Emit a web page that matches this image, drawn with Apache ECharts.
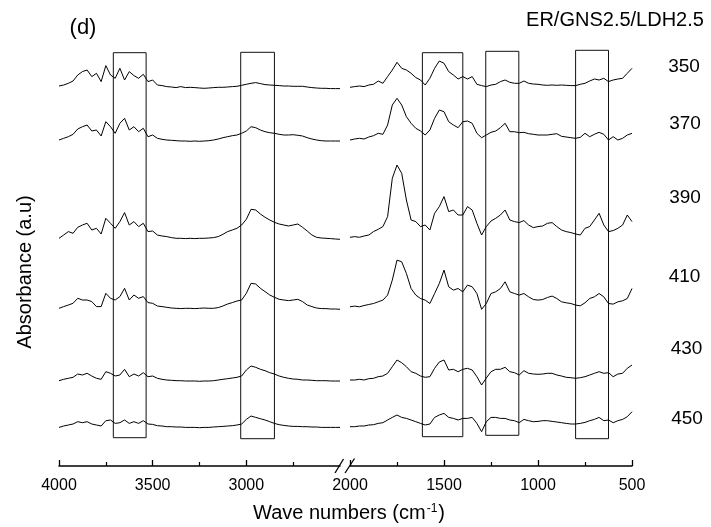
<!DOCTYPE html>
<html>
<head>
<meta charset="utf-8">
<script src="https://cdn.jsdelivr.net/npm/echarts@6/dist/echarts.min.js"></script>
<style>
  html, body { margin: 0; padding: 0; background: #fff; }
  #chart { width: 711px; height: 527px; }
</style>
</head>
<body>
<div id="chart"></div>
<script>
const FONT = "'Liberation Sans', Arial, sans-serif";

// wave numbers (cm-1) on each side of the axis break
const leftWave = [4000,3975,3950,3925,3900,3875,3850,3825,3800,3775,3750,3725,3700,3675,3650,3625,3600,3575,3550,3525,3500,3475,3450,3425,3400,3375,3350,3325,3300,3275,3250,3225,3200,3175,3150,3125,3100,3075,3050,3025,3000,2975,2950,2925,2900,2875,2850,2825,2800,2775,2750,2725,2700,2675,2650,2625,2600,2575,2550,2525,2500];
const rightWave = [2000,1975,1950,1925,1900,1875,1850,1825,1800,1775,1750,1725,1700,1675,1650,1625,1600,1575,1550,1525,1500,1475,1450,1425,1400,1375,1350,1325,1300,1275,1250,1225,1200,1175,1150,1125,1100,1075,1050,1025,1000,975,950,925,900,875,850,825,800,775,750,725,700,675,650,625,600,575,550,525,500];

const temps = ['350', '370', '390', '410', '430', '450'];
// vertical offset of each spectrum (a.u.)
const offsets = [378.7, 325, 227.7, 157.7, 86, 39.3];

// absorbance relative to offset, 4000-2500
const leftSpectra = [
  [1.3,2.3,4,6.3,12.3,15.7,17.3,10.7,14,5.7,21.7,12.3,9,19,7.3,15.7,11.7,9,13,5.7,7.3,2.3,1.7,0.7,0.3,-0.3,0.7,-0.3,0,-0.3,-0.7,-1,-0.7,-0.3,0,0,0.3,0.7,1,2,3,4,4.7,3.7,2.7,2.3,2,1.7,1.3,1.3,1,1,1,0.3,-0.3,-0.7,-1,-1,-1.3,-1.3,-1.3],
  [1,2.7,4.3,6.7,12,14.3,16,10,11,5,19.3,14.3,7.7,17.7,22.7,11,14.3,9.3,12.7,4.3,6,2.7,1.7,1,0.7,0.3,0,0,-0.3,0,-0.3,0,0.3,1,2,3.3,4.3,5.3,6,7.7,10,14.3,13.3,11,9.3,8.3,7.7,6.7,6,6,6.3,5.7,5,3.3,2,1,0.3,0,0,0,0],
  [0,3.3,6.7,5,11,13.3,15,8.3,10,4.3,20,15,10,16.7,25.7,13.3,16.7,11.7,15,6.7,7.3,3.3,2.3,1.7,0.7,0,0,-0.3,0,-0.3,0,0,0.3,0.7,1.7,4,6.7,8.3,10,13.3,19,29,28.3,24.3,21,18.3,16,14.3,13.3,12.3,13.3,14.3,11,7.3,3.3,1,0.3,0,-0.3,-0.7,-1],
  [0,1.7,3.3,5,10,8.3,8.3,6.7,1.7,1.7,15,10,8.3,11.7,20,8.3,13.3,10,11.7,5.7,5,2.3,1.7,1,0.3,0,-0.3,0,0,-0.3,0,0.3,0,0,0.7,2.3,4.3,5.7,7.3,8.3,15,25,24.3,20,16.7,13.3,11,9,8.3,7.7,8.3,9,6.7,3.3,1.7,0.3,-0.3,-0.3,-0.7,-0.7,-1],
  [-0.7,0.7,1.7,2.7,6,5,6.7,4,1.7,0.7,8.3,6.7,4,5,10.7,3.3,6,4,7.3,3.3,4,1.7,0.7,0,-0.3,-0.7,-0.7,-1,-1,-1,-1.3,-1,-1,-0.7,0,0.7,1.3,2,2.7,4,10,14,12.7,10.7,9.3,7.3,6,4,2.7,1.7,1,0.7,0,0,-0.3,-0.7,-0.7,-0.7,-1,-1,-1],
  [-0.7,0.7,1.7,2.7,5,4,5,2.7,1.7,0.7,6,6.7,3.3,4,6.7,3.3,5,3.3,6,2.7,2.3,1,0.7,0,0,-0.3,-0.3,-0.7,-0.7,-0.7,-1,-0.7,-0.7,-0.3,0,0.3,0.7,1,1.7,2.7,7.3,10.7,9.3,8,6.7,5,3.3,2,1.3,0.7,0.3,0.3,0,0,-0.3,-0.3,-0.7,-0.7,-0.7,-0.7,-0.7]
];

// absorbance relative to offset, 2000-500
const rightSpectra = [
  [0,0.7,1.3,0.7,2.3,3,6.3,4,10.7,17.3,25,19,17.3,14,9.7,7.3,2.3,9,19,26.3,24,15.7,12.3,8.3,10.7,8.3,10.7,3,1.7,0.7,2.3,3,5.7,7.3,5,4,4,6.3,4,3.3,3,2.3,2,2.3,2,2.3,2,1.7,1.7,3,4,6.3,8.3,7.3,9,5.7,7.3,8.3,9,14,19],
  [1,2,2.7,2,4,5.3,7.7,6.7,16,36,42.7,36,24.3,17.7,12.7,10,6,11,22.7,31,29.3,19.3,16,13.3,19.3,20,17.7,7.7,3.3,6,8.7,10,13.3,17.7,9.3,9.3,8.3,8.7,7.3,6.7,6,6,6,6.7,7.3,4.7,4,3.3,2.7,3.7,7.7,4.3,6.7,8.7,6.7,1,4.3,1,2.7,6,7.7],
  [1,1.7,1,2.3,3.3,6.7,9,11.7,21.7,60,73.3,65,38.3,18.3,16.7,11.7,13.3,8.3,25,31.7,41.7,26.7,28.3,23.3,23.3,31.7,28.3,15,3.3,11.7,17.3,20,23.3,28.3,18.3,16.7,15.7,17.7,13.3,10.7,11.7,12.3,15,15.7,11.7,8.3,6.7,5.7,4.3,3.3,10,11.7,18.3,25,13.3,6.7,7.7,10,13.3,23.3,16.7],
  [1.5,2.2,1.5,2.8,3.8,4.8,6.5,8.2,13.2,28.2,48.2,46.5,34.8,19.8,13.2,9.8,8.2,4.8,14.8,24.8,38.2,21.5,18.2,19.8,16.5,23.2,21.5,14.8,-1,4.8,14.8,16.5,19.8,26.5,16.5,14.8,13.2,14.8,11.5,8.8,8.2,8.8,10.8,12.2,9.8,6.5,5.5,4.8,3.2,2.5,5.5,9.8,11.5,14.8,11.5,4.8,4.2,6.5,7.5,9.8,19.8],
  [0,0,0.7,0,1.3,1.7,3.3,4,6.7,13.3,20,17.3,13.3,8.3,6.7,4,2.7,3.3,11.7,18,20,10,10.7,8.3,10.7,11.7,10,3.3,-5,2,8.3,10.7,10.7,12.7,8.3,7.3,5,9.3,6.7,6,5.7,6,6.7,6.7,5,4,2.7,2.3,1.7,2.3,3.3,5,6.7,8.3,6.7,7.3,3.3,6,6.7,11.7,15],
  [0,0,0.7,0.7,1.7,2,3.3,4,6.7,9.3,11.7,9.3,8.3,6.7,5,3.3,1.7,2.7,9.3,11.7,13.3,9.3,8.3,6.7,8.3,8.3,9.3,3.3,-5,5,9.3,9.3,8.3,8.3,6.7,6,4,7.3,6,5,5.3,6,6,5.3,4.7,4,3.3,2.7,2.7,3.3,4.3,6,7.3,9.3,6,6.7,4,6,7.3,10,15]
];

// highlighted bands
const boxFrom = [3710, 3030, 1615, 1278, 800];
const boxTo = [3535, 2850, 1400, 1102, 625];
const boxTop = [413.3, 413.7, 413.3, 414.7, 415.7];
const boxBottom = [28.3, 27.3, 29.3, 30.7, 27.3];

// temperature label positions
const tempX = [684, 685, 685, 684.5, 686.5, 687];
const tempY = [67, 123.5, 197.5, 277, 348.3, 419];

function boxAreas(side) {
  const out = [];
  boxFrom.forEach((f, i) => {
    const isLeft = f > 2250;
    if (isLeft === (side === 0)) {
      out.push([
        { xAxis: f, yAxis: boxTop[i] },
        { xAxis: boxTo[i], yAxis: boxBottom[i] },
      ]);
    }
  });
  return out;
}

function makeXAxis(gridIndex, min, max, ticks) {
  const ax = {
    gridIndex,
    type: 'value',
    inverse: true,
    min,
    max,
    interval: 500,
    splitLine: { show: false },
    axisLine: { lineStyle: { color: '#000', width: 1.5 } },
    axisTick: { inside: true, length: 6, lineStyle: { color: '#000', width: 1.3 } },
    minorTick: { show: true, splitNumber: 2, length: 4, lineStyle: { color: '#000', width: 1.2 } },
    axisLabel: {
      color: '#000', fontSize: 16, fontFamily: FONT, margin: 12,
      showMinLabel: true, showMaxLabel: true,
      formatter: v => String(v),
    },
  };
  if (ticks) {
    ax.axisTick.customValues = ticks;
    ax.axisLabel.customValues = ticks;
  }
  return ax;
}

function initChart(inst) {
  const series = [];
  temps.forEach((t, i) => {
    series.push({
      name: t + 'L',
      type: 'line',
      xAxisIndex: 0,
      yAxisIndex: 0,
      showSymbol: false,
      silent: true,
      lineStyle: { color: '#000', width: 1 },
      data: leftWave.map((w, j) => [w, offsets[i] + leftSpectra[i][j]]),
    });
    series.push({
      name: t + 'R',
      type: 'line',
      xAxisIndex: 1,
      yAxisIndex: 1,
      showSymbol: false,
      silent: true,
      lineStyle: { color: '#000', width: 1 },
      data: rightWave.map((w, j) => [w, offsets[i] + rightSpectra[i][j]]),
    });
  });
  const areaStyle = { color: 'rgba(0,0,0,0)', borderColor: '#111', borderWidth: 1 };
  series[0].markArea = { silent: true, itemStyle: areaStyle, data: boxAreas(0) };
  series[1].markArea = { silent: true, itemStyle: areaStyle, data: boxAreas(1) };

  const textStyle = (text, size) => ({
    text, fontSize: size, fontFamily: FONT, fill: '#000', align: 'center', verticalAlign: 'middle',
  });
  const graphic = [
    { type: 'text', x: 83, y: 28, style: textStyle('(d)', 22) },
    { type: 'text', x: 615, y: 20, style: textStyle('ER/GNS2.5/LDH2.5', 20) },
    { type: 'text', x: 25, y: 272, rotation: Math.PI / 2, style: textStyle('Absorbance (a.u)', 20) },
    {
      type: 'text', x: 349, y: 513,
      style: Object.assign(textStyle('Wave numbers (cm{s|-1})', 20), {
        rich: { s: { fontSize: 12, fontFamily: FONT, fill: '#000', verticalAlign: 'top', padding: [0, 1, 0, 1] } },
      }),
    },
    { type: 'line', shape: { x1: 335, y1: 473, x2: 343.5, y2: 459 }, style: { stroke: '#000', lineWidth: 1.3 } },
    { type: 'line', shape: { x1: 345, y1: 473, x2: 354.5, y2: 458.5 }, style: { stroke: '#000', lineWidth: 1.3 } },
  ];
  temps.forEach((t, i) => {
    graphic.push({ type: 'text', x: tempX[i], y: tempY[i], style: textStyle(t, 19) });
  });

  const option = {
    animation: false,
    backgroundColor: '#fff',
    grid: [
      { left: 59, top: 41, width: 281, height: 425 },
      { left: 350, top: 41, width: 282, height: 425 },
    ],
    xAxis: [
      makeXAxis(0, 2500, 4000, [3000, 3500, 4000]),
      makeXAxis(1, 500, 2000, null),
    ],
    yAxis: [
      { gridIndex: 0, type: 'value', min: 0, max: 425, show: false },
      { gridIndex: 1, type: 'value', min: 0, max: 425, show: false },
    ],
    graphic,
    series,
  };
  inst.setOption(option);
}

const chart = echarts.init(document.getElementById('chart'));
initChart(chart);
</script>
</body>
</html>
